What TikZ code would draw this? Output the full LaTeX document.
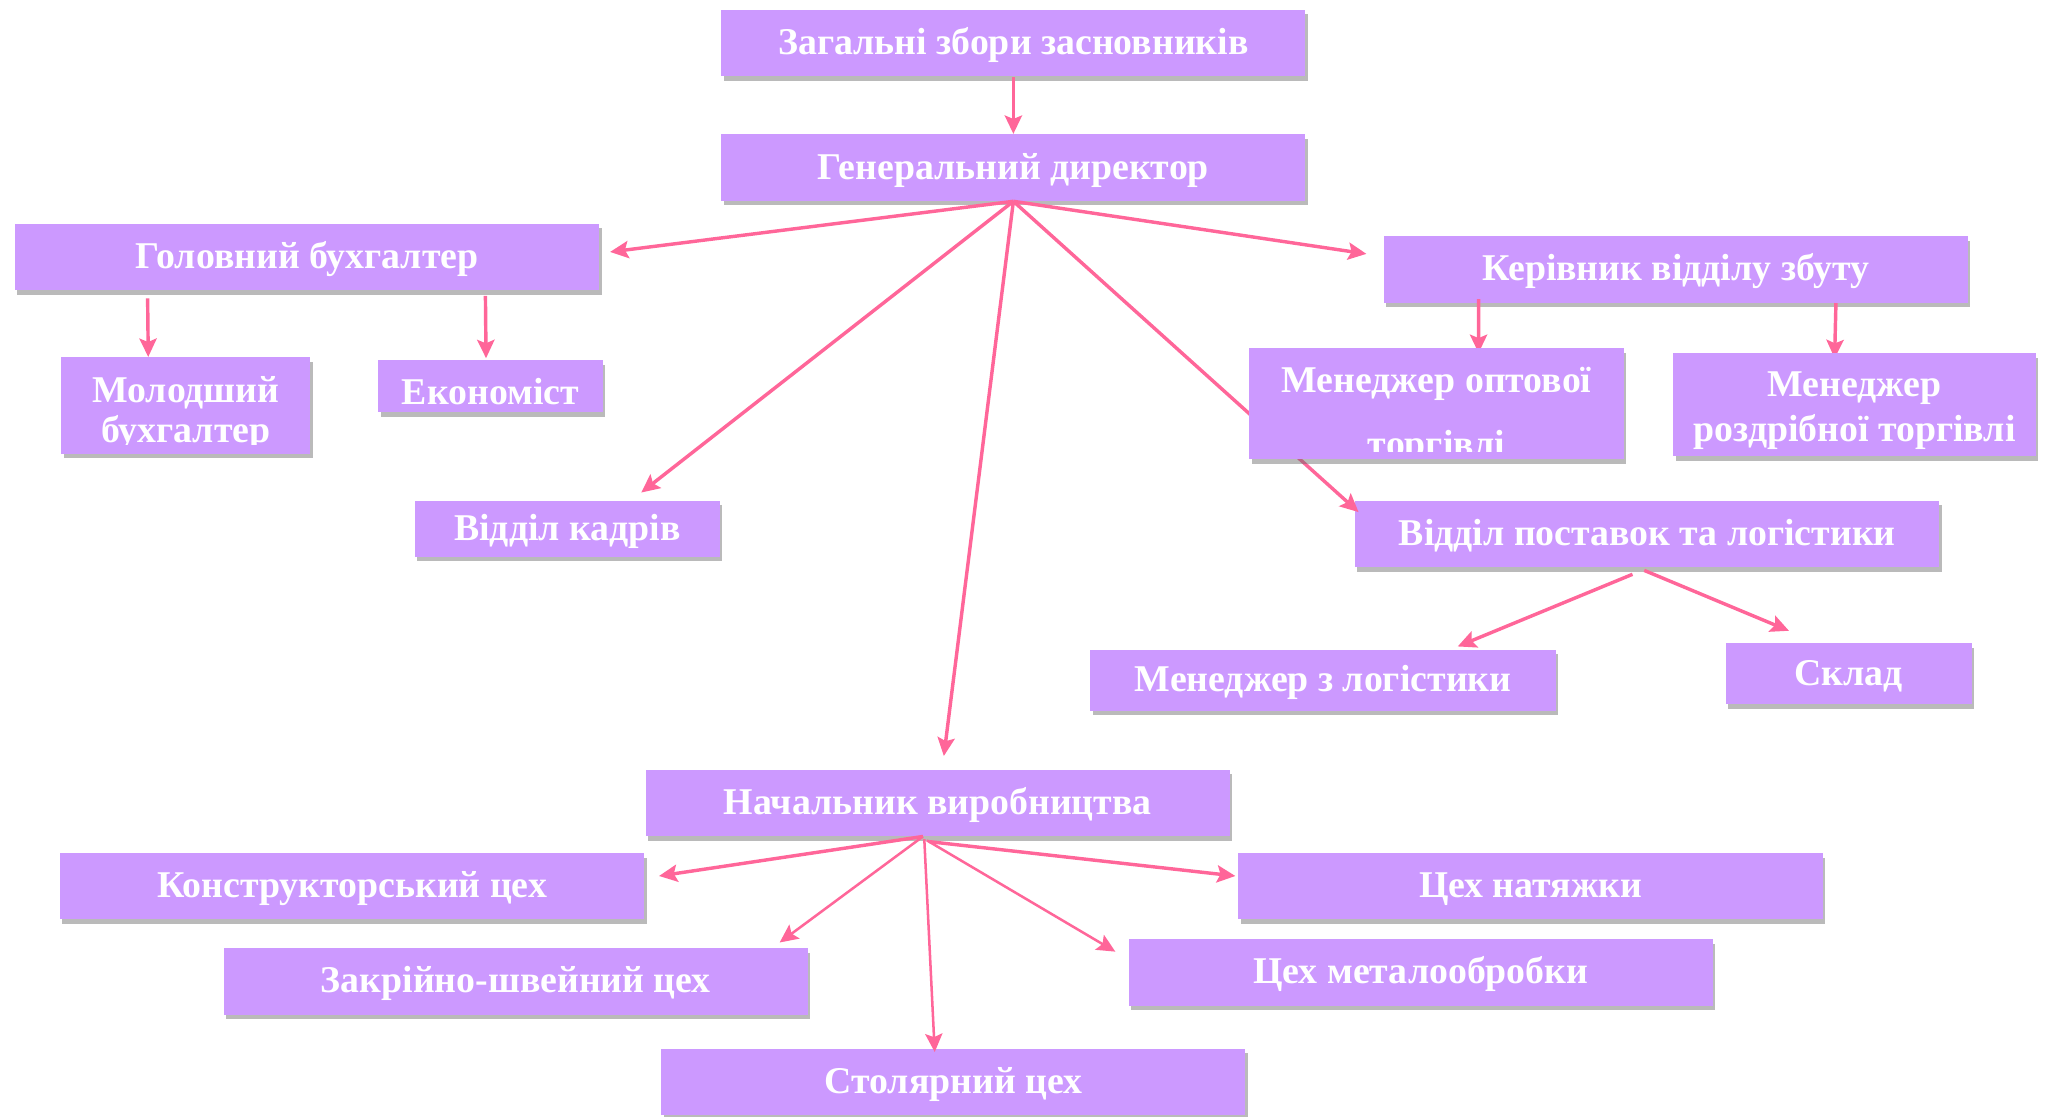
\documentclass[tikz,border=0pt]{standalone}
\usepackage{fontspec}
\setmainfont{Liberation Serif}
\usetikzlibrary{calc,shadows,arrows.meta}
\definecolor{boxfill}{HTML}{CC99FF}
\definecolor{arrpink}{HTML}{FF6699}
\pgfdeclarelayer{front}
\pgfsetlayers{main,front}
\tikzset{
	txt/.style={text=white, font=\bfseries\fontsize{16.5}{17.6}\selectfont},
	box/.style={rectangle, fill=boxfill, inner sep=0pt, txt,
		drop shadow={shadow xshift=1pt, shadow yshift=-2pt, opacity=0.45, fill=black!60}},
	one/.style={box, text height=10pt, text depth=0pt},
	wide/.style={one, minimum width=8.96cm, minimum height=1.02cm},
	cut/.style n args={3}{path picture={
			\clip ($(path picture bounding box.south west)+(0,-#1)$) rectangle (path picture bounding box.north east);
			\node[txt, align=center] at ($(path picture bounding box.center)+(0,#2)$) {#3};}},
	arr/.style={draw=arrpink, line width=1.5pt, -{Stealth[length=8pt,width=7.5pt,inset=1.5pt]}},
	thin/.style={line width=1.1pt},
}

\begin{document}
\begin{tikzpicture}[x=0.02cm, y=-0.02cm]
	\useasboundingbox (0,0) rectangle (1568,856);
	
	% top
	\node[wide] (zag) at (777,33) {Загальні збори засновників};
	\node[wide] (gen) at (777,128.5) {Генеральний директор};
	
	% left branch
	\node[wide] (buh) at (235.5,197) {Головний бухгалтер};
	\node[box, minimum width=3.82cm, minimum height=1.48cm, cut={7}{6}{Молодший\\бухгалтер}] (mol) at (142.5,311) {};
	\node[box, minimum width=3.44cm, minimum height=0.8cm, cut={6}{4}{Економіст}] (eko) at (376,296) {};
	\node[one, minimum width=4.68cm, minimum height=0.86cm] (kad) at (435,405.5) {Відділ кадрів};
	
	% right branch
	\node[wide] (ker) at (1285,206.5) {Керівник відділу збуту};
	\begin{pgfonlayer}{front}
		\node[box, minimum width=5.74cm, minimum height=1.7cm, cut={6}{9.7}{Менеджер оптової\\[10.3pt]торгівлі}] (opt) at (1101.5,309.5) {};
		\node[box, minimum width=5.56cm, minimum height=1.58cm, cut={0}{4.4}{Менеджер\\[2pt]роздрібної торгівлі}] (roz) at (1422,310.5) {};
	\end{pgfonlayer}
	\node[wide] (pos) at (1263,409.5) {Відділ поставок та логістики};
	\node[one, minimum width=7.14cm, minimum height=0.94cm] (mlog) at (1014.5,521.5) {Менеджер з логістики};
	\node[one, minimum width=3.78cm, minimum height=0.94cm] (skl) at (1417.5,516.5) {Склад};
	
	% production
	\node[wide] (nach) at (719,615.5) {Начальник виробництва};
	\node[wide] (kon) at (270,679.5) {Конструкторський цех};
	\node[wide] (nat) at (1173.5,679.5) {Цех натяжки};
	\node[wide] (zak) at (395.5,752.5) {Закрійно-швейний цех};
	\node[wide] (met) at (1089.5,745.5) {Цех металообробки};
	\node[wide] (stol) at (731,829.5) {Столярний цех};
	
	% arrows
	\draw[arr] (zag) -- (gen);
	\draw[arr] (gen.south) -- ($(buh.north east)+(8,22)$);
	\draw[arr] (gen.south) -- ($(ker.north west)+(-13,14)$);
	\draw[arr] (gen.south) -- ($(kad.north west)+(174,-6)$);
	\draw[arr] (gen.south) -- ($(nach.north west)+(229,-10)$);
	\draw[arr] (gen.south) -- ($(pos.north west)+(3,9)$);
	
	\draw[arr] ($(buh.south west)+(102,6)$) -- ($(mol.north west)+(67,0)$);
	\draw[arr] ($(buh.south west)+(361,4)$) -- ($(eko.north west)+(83,-1)$);
	
	\draw[arr] ($(ker.south west)+(73,-3)$) -- ($(opt.north west)+(176,4)$);
	\draw[arr] ($(ker.south west)+(347,0)$) -- ($(roz.north west)+(124,4)$);
	
	\draw[arr] ($(pos.south west)+(213,5)$) -- ($(mlog.north west)+(282,-2)$);
	\draw[arr] ($(pos.south west)+(222,2)$) -- ($(skl.north west)+(49,-9)$);
	
	\draw[arr] ($(nach.south west)+(213,0)$) -- ($(kon.north east)+(11,18)$);
	\draw[arr,thin] ($(nach.south west)+(213,0)$) -- ($(zak.north east)+(-22,-4)$);
	\draw[arr,thin] ($(nach.south west)+(214,2)$) -- ($(stol.north west)+(210,3)$);
	\draw[arr,thin] ($(nach.south west)+(216,3)$) -- ($(met.north west)+(-10,10)$);
	\draw[arr] ($(nach.south west)+(218,4)$) -- ($(nat.north west)+(-2,18)$);
\end{tikzpicture}
\end{document}
